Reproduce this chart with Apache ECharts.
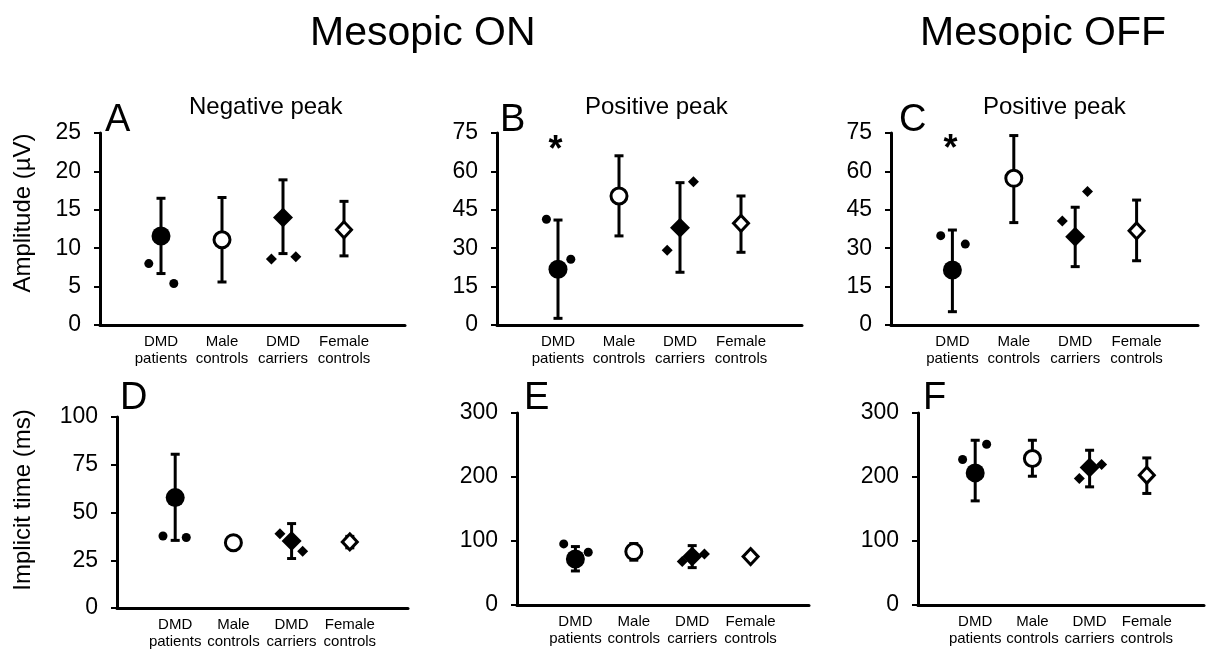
<!DOCTYPE html>
<html>
<head>
<meta charset="utf-8">
<script src="https://cdn.jsdelivr.net/npm/echarts@6/dist/echarts.min.js"></script>
<style>
  html, body { margin: 0; background: #fff; }
  #chart { width: 1207px; height: 656px; }
</style>
</head>
<body>
<div id="chart"></div>
<script>
// Mesopic ERG: mean ± SD per grupp + enskilda värden (patienter / bärare).
const GROUPS = ['DMD\npatients', 'Male\ncontrols', 'DMD\ncarriers', 'Female\ncontrols']
const GROUP_X = [1, 2, 3, 4]

// A – Mesopic ON, negative peak (µV)
const A_MEAN = [11.6, 11.1, 14.0, 12.4]
const A_LO = [6.7, 5.6, 9.3, 9.0]
const A_HI = [16.5, 16.6, 18.9, 16.1]
const A_PAT = [[0.8, 8.0], [1.21, 5.4]]
const A_CAR = [[2.81, 8.6], [3.21, 8.9]]

// B – Mesopic ON, positive peak (µV)
const B_MEAN = [21.8, 50.4, 38.0, 39.7]
const B_LO = [2.6, 34.8, 20.6, 28.4]
const B_HI = [41.0, 66.1, 55.6, 50.4]
const B_PAT = [[0.81, 41.3], [1.21, 25.7]]
const B_CAR = [[2.79, 29.2], [3.22, 56.0]]
const B_STAR = [[0.96, 68]]

// C – Mesopic OFF, positive peak (µV)
const C_MEAN = [21.5, 57.3, 34.5, 36.8]
const C_LO = [5.2, 40.0, 22.8, 25.1]
const C_HI = [37.1, 74.0, 46.0, 48.8]
const C_PAT = [[0.81, 34.9], [1.21, 31.6]]
const C_CAR = [[2.79, 40.6], [3.2, 52.1]]
const C_STAR = [[0.97, 68.5]]

// D – Mesopic ON, implicit time (ms)
const D_MEAN = [57.8, 34.2, 35.1, 34.6]
const D_LO = [35.4, 31.0, 25.9, 31.5]
const D_HI = [80.5, 37.5, 44.2, 37.5]
const D_PAT = [[0.79, 37.7], [1.19, 36.9]]
const D_CAR = [[2.8, 38.9], [3.19, 29.7]]

// E – Mesopic ON, implicit time (ms)
const E_MEAN = [72, 83.4, 75.6, 75.6]
const E_LO = [53.2, 70, 58.4, 70]
const E_HI = [91.3, 96, 92.8, 82]
const E_PAT = [[0.8, 95.5], [1.22, 82.5]]
const E_CAR = [[2.83, 67.8], [3.21, 79.8]]

// F – Mesopic OFF, implicit time (ms)
const F_MEAN = [206.4, 228.9, 214.8, 202.8]
const F_LO = [162.7, 201.2, 184.6, 174.3]
const F_HI = [257.4, 257.4, 241.8, 229.8]
const F_PAT = [[0.78, 227.3], [1.2, 251.2]]
const F_CAR = [[2.82, 197.7], [3.21, 219.5]]

const FONT = 'Liberation Sans, Arial, sans-serif'
const INK = '#000'

const PANELS = [
  { L: 'A', sub: 'Negative peak', mean: A_MEAN, lo: A_LO, hi: A_HI, pat: A_PAT, car: A_CAR, max: 25, step: 5,
    grid: { left: 100, top: 133, width: 305, height: 192 }, lx: 105, sx: 189, ty: 102 },
  { L: 'B', sub: 'Positive peak', mean: B_MEAN, lo: B_LO, hi: B_HI, pat: B_PAT, car: B_CAR, star: B_STAR, max: 75, step: 15,
    grid: { left: 497, top: 133, width: 305, height: 192 }, lx: 500, sx: 585, ty: 102 },
  { L: 'C', sub: 'Positive peak', mean: C_MEAN, lo: C_LO, hi: C_HI, pat: C_PAT, car: C_CAR, star: C_STAR, max: 75, step: 15,
    grid: { left: 891, top: 133, width: 307, height: 192 }, lx: 899, sx: 983, ty: 102 },
  { L: 'D', mean: D_MEAN, lo: D_LO, hi: D_HI, pat: D_PAT, car: D_CAR, max: 100, step: 25,
    grid: { left: 117, top: 417, width: 291, height: 191 }, lx: 120, ty: 380 },
  { L: 'E', mean: E_MEAN, lo: E_LO, hi: E_HI, pat: E_PAT, car: E_CAR, max: 300, step: 100,
    grid: { left: 517, top: 413, width: 292, height: 192 }, lx: 524, ty: 380 },
  { L: 'F', mean: F_MEAN, lo: F_LO, hi: F_HI, pat: F_PAT, car: F_CAR, max: 300, step: 100,
    grid: { left: 918, top: 413, width: 288, height: 192 }, lx: 923, ty: 380 }
]

// Medelvärdesmarkörer per grupp: fylld cirkel, öppen cirkel, fylld romb, öppen romb.
const MARK = [
  { symbol: 'circle', symbolSize: 19, itemStyle: { color: INK, borderWidth: 0, opacity: 1 } },
  { symbol: 'circle', symbolSize: 16, itemStyle: { color: '#fff', borderColor: INK, borderWidth: 3, opacity: 1 } },
  { symbol: 'diamond', symbolSize: [20, 20], itemStyle: { color: INK, borderWidth: 0, opacity: 1 } },
  { symbol: 'diamond', symbolSize: [15, 16], itemStyle: { color: '#fff', borderColor: INK, borderWidth: 3, opacity: 1 } }
]

function errorBar(params, api) {
  const x = api.value(0)
  const a = api.coord([x, api.value(1)])
  const b = api.coord([x, api.value(2)])
  const w = 4.5
  const style = { stroke: INK, lineWidth: 3, fill: null }
  return {
    type: 'group',
    children: [
      { type: 'line', shape: { x1: a[0], y1: a[1], x2: b[0], y2: b[1] }, style },
      { type: 'line', shape: { x1: b[0] - w, y1: b[1], x2: b[0] + w, y2: b[1] }, style },
      { type: 'line', shape: { x1: a[0] - w, y1: a[1], x2: a[0] + w, y2: a[1] }, style }
    ]
  }
}

const txt = (size) => ({ fontSize: size, fontWeight: 'normal', color: INK, fontFamily: FONT })
const grid = [], xAxis = [], yAxis = [], series = [], title = []
title.push(
  { text: 'Mesopic ON', left: 310, top: 13, padding: 0, textStyle: txt(41) },
  { text: 'Mesopic OFF', left: 920, top: 13, padding: 0, textStyle: txt(41) }
)

PANELS.forEach((p, i) => {
  grid.push(p.grid)
  xAxis.push({
    gridIndex: i, type: 'value', min: 0, max: 5, interval: 1,
    axisLine: { lineStyle: { color: INK, width: 3 } },
    axisTick: { show: false }, splitLine: { show: false },
    axisLabel: {
      color: INK, fontSize: 15, lineHeight: 17, margin: 8, fontFamily: FONT,
      formatter: v => GROUPS[GROUP_X.indexOf(v)] || ''
    }
  })
  yAxis.push({
    gridIndex: i, type: 'value', min: 0, max: p.max, interval: p.step,
    axisLine: { show: true, lineStyle: { color: INK, width: 3 } },
    axisTick: { show: true, length: 6, lineStyle: { color: INK, width: 2 } },
    splitLine: { show: false },
    axisLabel: { color: INK, fontSize: 23, margin: 19, fontFamily: FONT }
  })
  title.push({ text: p.L, left: p.lx, top: p.ty, padding: 0, textStyle: txt(38) })
  if (p.sub) title.push({ text: p.sub, left: p.sx, top: 95, padding: 0, textStyle: txt(24) })

  series.push({
    type: 'custom', xAxisIndex: i, yAxisIndex: i, renderItem: errorBar, z: 2,
    encode: { x: 0, y: [1, 2] },
    data: GROUP_X.map((x, k) => [x, p.lo[k], p.hi[k]])
  })
  series.push({
    type: 'scatter', xAxisIndex: i, yAxisIndex: i, z: 4, symbol: 'circle', symbolSize: 9,
    itemStyle: { color: INK, opacity: 1 }, data: p.pat
  })
  series.push({
    type: 'scatter', xAxisIndex: i, yAxisIndex: i, z: 4, symbol: 'diamond', symbolSize: [11, 11],
    itemStyle: { color: INK, opacity: 1 }, data: p.car
  })
  series.push({
    type: 'scatter', xAxisIndex: i, yAxisIndex: i, z: 5,
    data: GROUP_X.map((x, k) => Object.assign({ value: [x, p.mean[k]] }, MARK[k]))
  })
  if (p.star) series.push({
    type: 'scatter', xAxisIndex: i, yAxisIndex: i, z: 5, symbolSize: 1,
    itemStyle: { color: 'rgba(0,0,0,0)', opacity: 1 },
    label: { show: true, position: 'inside', formatter: '*', fontSize: 36, fontWeight: 'bold', color: INK, opacity: 1, fontFamily: FONT },
    data: p.star
  })
})

const chart = echarts.init(document.getElementById('chart'), null, { renderer: 'canvas' })
chart.setOption({
  animation: false,
  backgroundColor: '#fff',
  title, grid, xAxis, yAxis, series,
  graphic: [
    { type: 'text', x: 23, y: 213, rotation: Math.PI / 2,
      style: { text: 'Amplitude (µV)', fontSize: 24, fontFamily: FONT, fill: INK, align: 'center', verticalAlign: 'middle' } },
    { type: 'text', x: 23, y: 500, rotation: Math.PI / 2,
      style: { text: 'Implicit time (ms)', fontSize: 24, fontFamily: FONT, fill: INK, align: 'center', verticalAlign: 'middle' } }
  ]
})
</script>
</body>
</html>
